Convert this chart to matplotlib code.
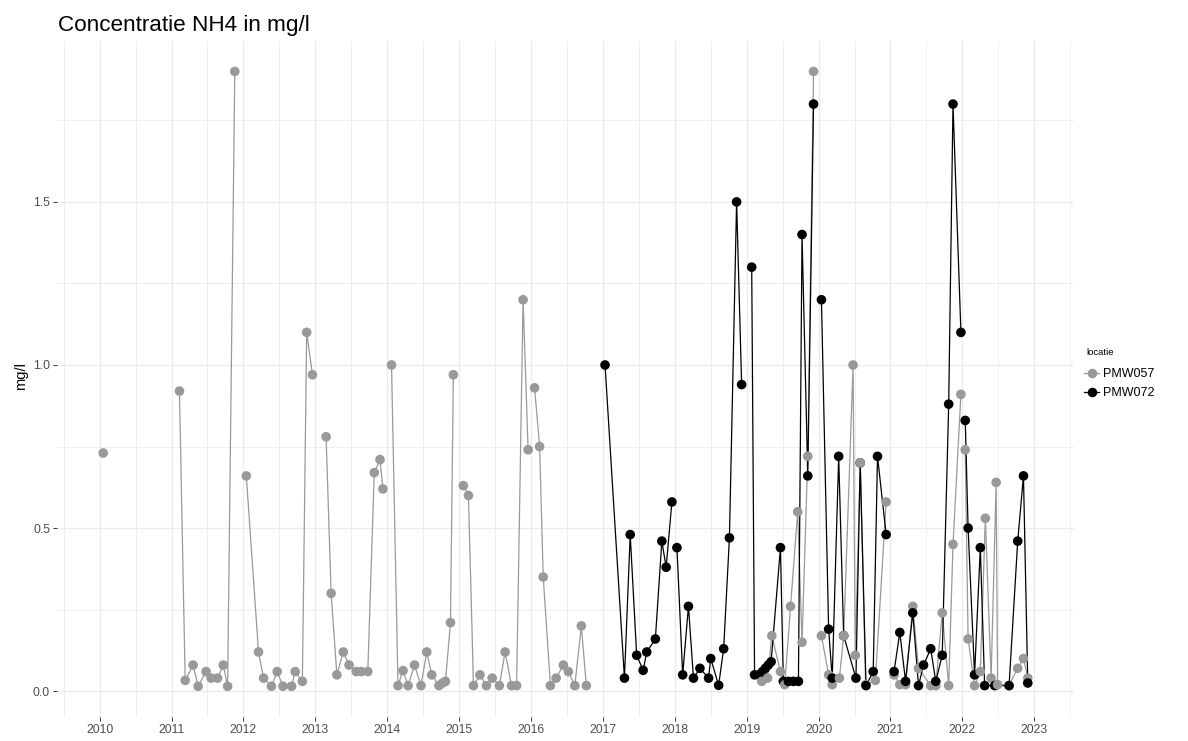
import matplotlib.pyplot as plt
import numpy as np

plt.rcParams['font.family'] = ['Liberation Sans', 'DejaVu Sans']

# PMW057 (grijs) - decimaal jaar / mg/l
jaar_057 = [2010.05,
            2011.11, 2011.19, 2011.30, 2011.37, 2011.48, 2011.55, 2011.64, 2011.72, 2011.78, 2011.88,
            2012.04, 2012.21, 2012.28, 2012.39, 2012.47, 2012.55, 2012.67, 2012.72, 2012.82, 2012.88, 2012.96,
            2013.15, 2013.22, 2013.30, 2013.39, 2013.47, 2013.57, 2013.64, 2013.73, 2013.82, 2013.90, 2013.94,
            2014.06, 2014.15, 2014.22, 2014.29, 2014.38, 2014.47, 2014.55, 2014.62, 2014.72, 2014.77, 2014.81,
            2014.88, 2014.92,
            2015.06, 2015.13, 2015.20, 2015.29, 2015.38, 2015.46, 2015.56, 2015.64, 2015.73, 2015.80, 2015.89,
            2015.96,
            2016.05, 2016.12, 2016.17, 2016.27, 2016.35, 2016.45, 2016.52, 2016.61, 2016.70, 2016.77,
            2019.21, 2019.29, 2019.35, 2019.47, 2019.53, 2019.61, 2019.71, 2019.77, 2019.85, 2019.93,
            2020.04, 2020.14, 2020.19, 2020.29, 2020.35, 2020.48, 2020.51, 2020.58, 2020.655, 2020.79,
            2020.94,
            2021.05, 2021.13, 2021.21, 2021.31, 2021.39, 2021.56, 2021.63, 2021.72, 2021.81, 2021.87, 2021.98,
            2022.04, 2022.08, 2022.17, 2022.25, 2022.32, 2022.40, 2022.47, 2022.49, 2022.645, 2022.77,
            2022.85, 2022.91]
nh4_057 = [0.73,
           0.92, 0.033, 0.08, 0.015, 0.06, 0.04, 0.04, 0.08, 0.015, 1.90,
           0.66, 0.12, 0.04, 0.015, 0.06, 0.015, 0.015, 0.06, 0.03, 1.10, 0.97,
           0.78, 0.30, 0.05, 0.12, 0.08, 0.06, 0.06, 0.06, 0.67, 0.71, 0.62,
           1.00, 0.017, 0.063, 0.017, 0.08, 0.017, 0.12, 0.05, 0.017, 0.025, 0.03,
           0.21, 0.97,
           0.63, 0.60, 0.017, 0.05, 0.017, 0.04, 0.017, 0.12, 0.017, 0.017, 1.20,
           0.74,
           0.93, 0.75, 0.35, 0.017, 0.04, 0.08, 0.06, 0.017, 0.20, 0.017,
           0.03, 0.04, 0.17, 0.06, 0.02, 0.26, 0.55, 0.15, 0.72, 1.90,
           0.17, 0.05, 0.02, 0.04, 0.17, 1.00, 0.11, 0.70, 0.02, 0.033,
           0.58,
           0.05, 0.02, 0.02, 0.26, 0.07, 0.017, 0.017, 0.24, 0.017, 0.45, 0.91,
           0.74, 0.16, 0.017, 0.06, 0.53, 0.04, 0.64, 0.02, 0.017, 0.07,
           0.10, 0.04]

# PMW072 (zwart)
jaar_072 = [2017.03, 2017.30, 2017.38, 2017.47, 2017.56, 2017.61, 2017.73, 2017.82, 2017.88, 2017.96,
            2018.03, 2018.11, 2018.19, 2018.26, 2018.35, 2018.47, 2018.50, 2018.61, 2018.68, 2018.76,
            2018.86, 2018.93,
            2019.07, 2019.11, 2019.17, 2019.22, 2019.26, 2019.30, 2019.34, 2019.47, 2019.51, 2019.58,
            2019.65, 2019.72, 2019.77, 2019.85, 2019.93,
            2020.04, 2020.14, 2020.19, 2020.28, 2020.349, 2020.52, 2020.579, 2020.66, 2020.76, 2020.82,
            2020.94,
            2021.05, 2021.13, 2021.21, 2021.31, 2021.39, 2021.46, 2021.56, 2021.63, 2021.72, 2021.81,
            2021.87, 2021.98,
            2022.04, 2022.08, 2022.17, 2022.25, 2022.31, 2022.45, 2022.65, 2022.77, 2022.85, 2022.91]
nh4_072 = [1.00, 0.04, 0.48, 0.11, 0.064, 0.12, 0.16, 0.46, 0.38, 0.58,
           0.44, 0.05, 0.26, 0.04, 0.07, 0.04, 0.10, 0.018, 0.13, 0.47,
           1.50, 0.94,
           1.30, 0.05, 0.05, 0.06, 0.07, 0.08, 0.09, 0.44, 0.03, 0.03,
           0.03, 0.03, 1.40, 0.66, 1.80,
           1.20, 0.19, 0.04, 0.72, 0.17, 0.04, 0.70, 0.017, 0.06, 0.72,
           0.48,
           0.06, 0.18, 0.03, 0.24, 0.017, 0.08, 0.13, 0.03, 0.11, 0.88,
           1.80, 1.10,
           0.83, 0.50, 0.05, 0.44, 0.017, 0.017, 0.017, 0.46, 0.66, 0.025]

locaties = ['PMW057', 'PMW072']
jaren = list(range(2010, 2024))
y_ticks = [0.0, 0.5, 1.0, 1.5]

grijs = '#999999'
zwart = '#000000'

fig = plt.figure(figsize=(11.88, 7.41), dpi=100)
ax = fig.add_axes([57 / 1188, 1 - 717 / 741, (1074 - 57) / 1188, (717 - 40.7) / 741])

# lijnen per locatie en per kalenderjaar
for jaar, nh4, kleur in [(jaar_057, nh4_057, grijs), (jaar_072, nh4_072, zwart)]:
    jaar = np.array(jaar)
    nh4 = np.array(nh4)
    for j in np.unique(np.floor(jaar)):
        sel = np.floor(jaar) == j
        ax.plot(jaar[sel], nh4[sel], color=kleur, lw=0.9, zorder=2)

# punten in volgorde van datum, zoals de rijen van de tabel
alle_x = np.array(jaar_057 + jaar_072)
alle_y = np.array(nh4_057 + nh4_072)
alle_c = np.array([grijs] * len(jaar_057) + [zwart] * len(jaar_072))
volg = np.argsort(alle_x, kind='stable')
ax.scatter(alle_x[volg], alle_y[volg], c=alle_c[volg], s=48, linewidths=0, zorder=3)

# 5% uitbreiding zoals ggplot
xmin, xmax = alle_x.min(), alle_x.max()
ymin, ymax = alle_y.min(), alle_y.max()
ax.set_xlim(xmin - 0.05 * (xmax - xmin), xmax + 0.05 * (xmax - xmin))
ax.set_ylim(ymin - 0.05 * (ymax - ymin), ymax + 0.05 * (ymax - ymin))

ax.set_xticks(jaren)
ax.set_xticklabels([str(j) for j in jaren])
ax.set_xticks([j + 0.5 for j in jaren[:-1]] + [2009.5, 2023.5], minor=True)
ax.set_yticks(y_ticks)
ax.set_yticklabels(['%.1f' % v for v in y_ticks])
ax.set_yticks([0.25, 0.75, 1.25, 1.75], minor=True)

ax.grid(which='major', color='#EBEBEB', lw=1.0, zorder=0)
ax.grid(which='minor', color='#EBEBEB', lw=0.6, zorder=0)
ax.set_axisbelow(True)
for s in ax.spines.values():
    s.set_visible(False)
ax.tick_params(which='major', length=2.8, width=0.7, color='#333333',
               labelsize=8.8, labelcolor='#4D4D4D', pad=2.2)
ax.tick_params(which='minor', length=0)

fig.text(21 / 1188, 1 - 376 / 741, 'mg/l', rotation=90, ha='center', va='center',
         fontsize=10.5, color='black')
fig.text(58 / 1188, 1 - 30.5 / 741, 'Concentratie NH4 in mg/l', ha='left', va='baseline',
         fontsize=16.2, color='black')

# legenda
fig.text(1086 / 1188, 1 - 352 / 741, 'locatie', ha='left', va='center', fontsize=6.8)
h1, = ax.plot([], [], '-o', color=grijs, lw=0.9, ms=6.9, mew=0)
h2, = ax.plot([], [], '-o', color=zwart, lw=0.9, ms=6.9, mew=0)
leg = fig.legend([h1, h2], locaties,
                 loc='upper left', bbox_to_anchor=(1084 / 1188, 1 - 368 / 741),
                 frameon=False, fontsize=9,
                 handlelength=1.2, handletextpad=0.35, labelspacing=0.55,
                 borderaxespad=0, borderpad=0)

fig.savefig('out.png', dpi=100)
